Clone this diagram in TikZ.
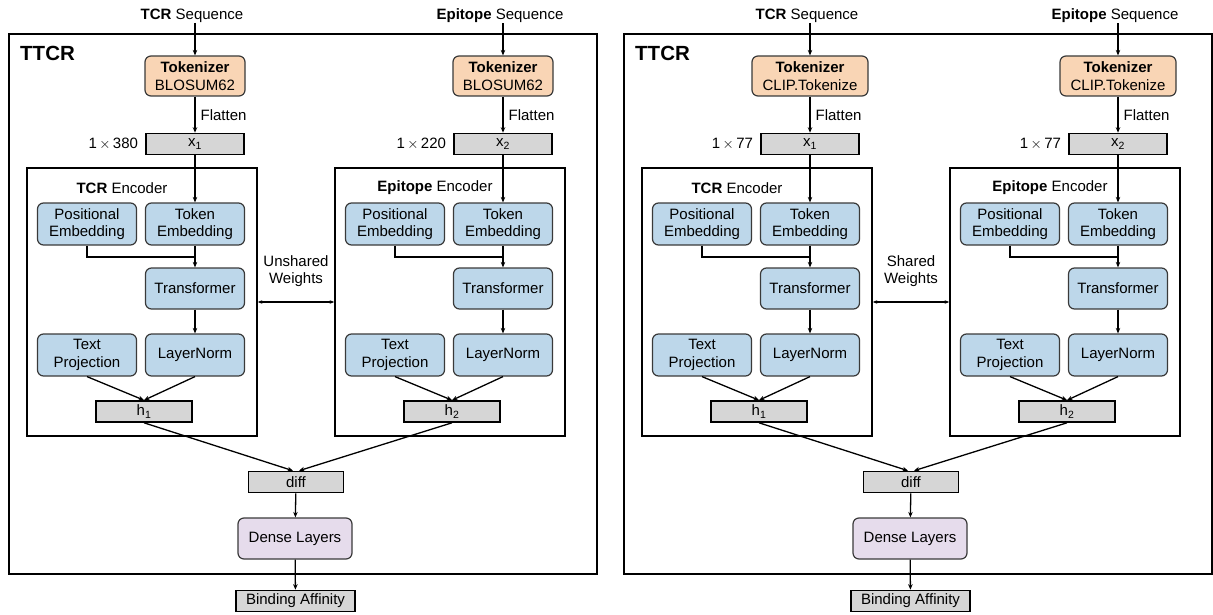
\documentclass[tikz,border=0pt]{standalone}
\usepackage{fontspec}
\setmainfont{Liberation Sans}
\usetikzlibrary{arrows.meta, positioning}

\definecolor{tokfill}{HTML}{F9D5B5}
\definecolor{embfill}{HTML}{BDD7EA}
\definecolor{vecfill}{HTML}{D6D6D6}
\definecolor{densefill}{HTML}{E6DCEC}
\definecolor{edgegray}{HTML}{3A3A3A}

\tikzset{
  txt/.style={font=\fontsize{15}{17.5}\selectfont, inner sep=0pt, align=center},
  blk/.style={txt, draw=edgegray, line width=1.2pt, rounded corners=6pt},
  tokbox/.style={blk, fill=tokfill, minimum height=40pt},
  embbox/.style={blk, fill=embfill, minimum width=99pt, minimum height=42pt},
  vecbox/.style={txt, draw=black, line width=1.6pt, fill=vecfill, minimum height=21pt},
  densebox/.style={blk, fill=densefill, minimum width=114pt, minimum height=41pt},
  encbox/.style={draw=black, line width=1.6pt, inner sep=0pt, minimum width=230pt, minimum height=268pt},
  panelbox/.style={draw=black, line width=1.6pt},
  arr/.style={-{Stealth[length=5.5pt,width=4.5pt]}, line width=1.3pt},
  darr/.style={{Stealth[length=4.5pt,width=3.5pt]}-{Stealth[length=4.5pt,width=3.5pt]}, line width=1.3pt},
}

\begin{document}
\begin{tikzpicture}[x=1pt, y=-1pt]
\useasboundingbox (0,0) rectangle (1213,615);

\foreach \pn/\dx/\tw/\tk/\dA/\dB/\wt in {L/0/100/BLOSUM62/380/220/Unshared, R/615/116/CLIP.Tokenize/77/77/Shared}{
  % outer TTCR frame
  \draw[panelbox] (\dx+9,34) rectangle (\dx+597,574);
  \node[txt, anchor=west, font=\fontsize{20.5}{24}\selectfont\bfseries] (\pn-title) at (\dx+20,53) {TTCR};

  % the two encoders
  \foreach \en/\cx/\nm/\ttx/\dm/\ix in {a/195/TCR/-73/\dA/1, b/503/Epitope/-68/\dB/2}{
    \node[txt] (\pn-\en-seq) at (\dx+\cx-3,16) {\textbf{\nm} Sequence};
    \node[tokbox, minimum width=\tw pt] (\pn-\en-tok) at (\dx+\cx,76) {\textbf{Tokenizer}\\\tk};
    \node[vecbox, minimum width=98pt] (\pn-\en-x) at (\dx+\cx,144) {x\textsubscript{\ix}};
    \node[txt, anchor=east] (\pn-\en-dim) at ([xshift=-7pt]\pn-\en-x.west) {1$\,\times\,$\dm};

    \node[encbox] (\pn-\en-enc) at (\dx+\cx-53,302) {};
    \node[txt] (\pn-\en-head) at (\dx+\cx+\ttx,188) {\textbf{\nm} Encoder};
    \node[embbox] (\pn-\en-pe) at (\dx+\cx-108,224) {Positional\\Embedding};
    \node[embbox] (\pn-\en-te) at (\dx+\cx,224) {Token\\Embedding};
    \node[embbox, minimum height=41pt] (\pn-\en-tr) at (\dx+\cx,288.5) {Transformer};
    \node[embbox] (\pn-\en-tp) at (\dx+\cx-108,355) {Text\\Projection};
    \node[embbox] (\pn-\en-ln) at (\dx+\cx,355) {LayerNorm};
    \node[vecbox, minimum width=96pt] (\pn-\en-h) at (\dx+\cx-51,411.5) {h\textsubscript{\ix}};
    \coordinate (\pn-\en-j) at (\dx+\cx,257);

    % connectors
    \draw[arr] (\pn-\en-seq.south -| \pn-\en-tok.north) -- (\pn-\en-tok.north);
    \draw[arr] (\pn-\en-tok) -- node[txt, right=5pt] {Flatten} (\pn-\en-x);
    \draw[arr] (\pn-\en-x) -- (\pn-\en-te);
    \draw[line width=1.3pt] (\pn-\en-pe.south) |- (\pn-\en-j);
    \draw[arr] (\pn-\en-te) -- (\pn-\en-tr);
    \draw[arr] (\pn-\en-tr) -- (\pn-\en-ln);
    \draw[arr] (\pn-\en-tp.south) -- (\pn-\en-h.north);
    \draw[arr] (\pn-\en-ln.south) -- (\pn-\en-h.north);
  }

  % weights between the encoders
  \node[txt] (\pn-wt) at (\dx+296,271) {\wt\\Weights};
  \draw[darr] (\pn-a-enc.east) -- (\pn-b-enc.west);

  % head
  \node[vecbox, minimum width=95pt] (\pn-diff) at (\dx+296,482) {diff};
  \node[densebox] (\pn-dense) at (\dx+295,538.5) {Dense Layers};
  \node[vecbox, minimum width=119pt] (\pn-out) at (\dx+295.5,601) {Binding Affinity};
  \draw[arr] (\pn-a-h.south) -- ([xshift=-3pt]\pn-diff.north);
  \draw[arr] (\pn-b-h.south) -- ([xshift=3pt]\pn-diff.north);
  \draw[arr] (\pn-diff) -- (\pn-dense);
  \draw[arr] (\pn-dense) -- (\pn-out);
}
\end{tikzpicture}
\end{document}
